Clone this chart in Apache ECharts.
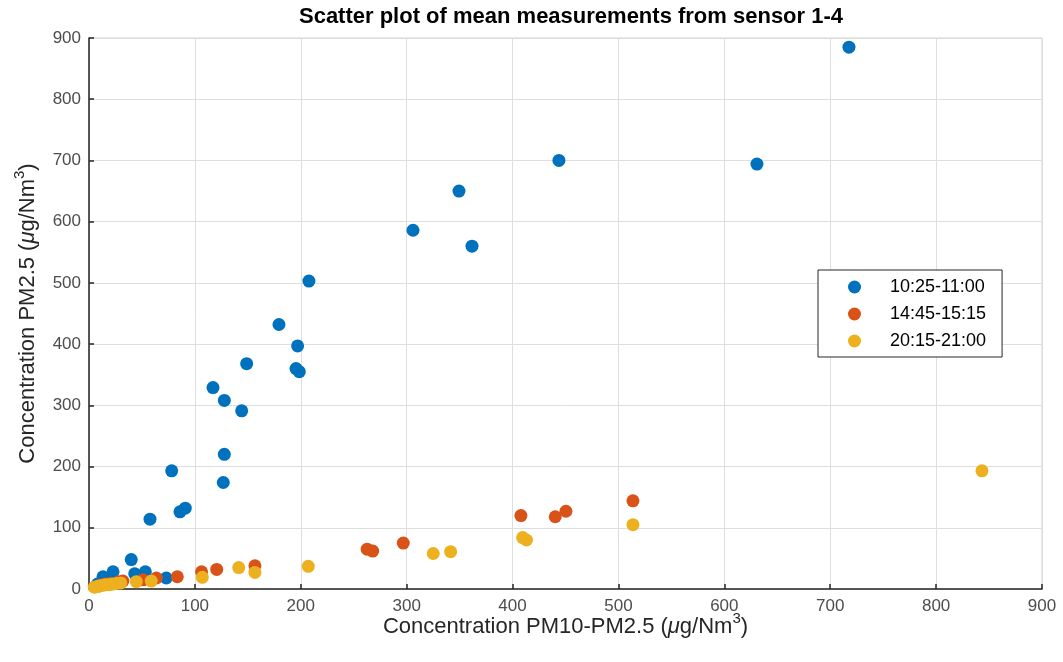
<!DOCTYPE html>
<html>
<head>
<meta charset="utf-8">
<script src="https://cdn.jsdelivr.net/npm/echarts@6/dist/echarts.min.js"></script>
<style>
  html, body { margin: 0; padding: 0; background: #fff; }
  #chart { width: 1063px; height: 662px; }
</style>
</head>
<body>
<div id="chart"></div>
<script>
// Mean PM measurements [PM10-PM2.5, PM2.5] in µg/Nm³, one list per time window
const seriesNames = ['10:25-11:00', '14:45-15:15', '20:15-21:00'];

const morning = [
  [717.7, 885], [443.8, 700], [630.8, 694], [349.4, 650], [306, 586], [361.7, 560],
  [207.7, 503], [179.4, 432], [197, 397], [148.9, 368], [195.5, 360], [198.6, 355],
  [117.1, 329], [127.8, 308], [144.2, 291], [127.8, 220], [78.1, 193], [126.8, 174],
  [90.9, 132], [85.9, 126], [57.6, 114], [39.9, 48], [22.7, 28], [13.2, 20],
  [43.2, 25], [53.2, 28], [73, 18], [8, 8], [12, 10], [18, 12]
];

const afternoon = [
  [513.7, 144], [450.4, 127], [440.3, 118], [407.9, 120], [296.8, 75], [262.7, 65],
  [267.9, 62], [156.7, 38], [120.6, 32], [106.3, 28], [83.4, 20], [63.6, 18],
  [51, 15], [32, 13], [28, 12], [20, 9], [15, 8], [10, 6]
];

const evening = [
  [843.3, 193], [513.7, 105], [409.5, 84], [413.2, 80], [341.5, 61], [325.1, 58],
  [207.1, 37], [156.7, 27], [141.4, 35], [107, 19], [58.8, 13], [44.7, 12],
  [30, 10], [26, 9], [22, 8], [19, 7], [16, 7], [13, 6], [10, 5], [8, 4], [5, 3]
];

const colors = ['#0072BD', '#D95319', '#EDB120'];
const font = '"Liberation Sans", Arial, Helvetica, sans-serif';

// Rich-text styles for axis names: italic µ and raised exponent
const nameRich = {
  n: { fontFamily: font, fontSize: 22, color: '#262626', lineHeight: 27, verticalAlign: 'bottom' },
  i: { fontFamily: font, fontSize: 22, color: '#262626', fontStyle: 'italic', lineHeight: 27, verticalAlign: 'bottom' },
  s: { fontFamily: font, fontSize: 15, color: '#262626', lineHeight: 27, verticalAlign: 'top' }
};

const chart = echarts.init(document.getElementById('chart'));

function axis(name, extra) {
  return Object.assign({
    type: 'value',
    min: 0,
    max: 900,
    interval: 100,
    name: name,
    nameLocation: 'middle',
    nameMoveOverlap: false,
    nameTextStyle: { fontFamily: font, fontSize: 22, color: '#262626', rich: nameRich },
    axisLine: { show: true, onZero: false, lineStyle: { color: '#262626', width: 1.5 } },
    axisTick: { show: true, inside: true, length: 5, lineStyle: { color: '#262626', width: 1.5 } },
    splitLine: { show: true, lineStyle: { color: '#dedede', width: 1 } }
  }, extra);
}

chart.setOption({
  animation: false,
  backgroundColor: '#ffffff',
  color: colors,
  title: {
    text: 'Scatter plot of mean measurements from sensor 1-4',
    left: 566,
    textAlign: 'center',
    top: 1,
    textStyle: { fontFamily: font, fontSize: 22, fontWeight: 'bold', color: '#000' }
  },
  grid: { left: 89, right: 21, top: 38, bottom: 73, show: true, borderColor: '#d0d0d0', borderWidth: 1 },
  xAxis: axis('{n|Concentration PM10-PM2.5 (}{i|\u03bc}{n|g/Nm}{s|3}{n|)}', {
    nameGap: 22,
    axisLabel: { fontFamily: font, fontSize: 17, color: '#4d4d4d', margin: 9 }
  }),
  yAxis: axis('{n|Concentration PM2.5 (}{i|\u03bc}{n|g/Nm}{s|3}{n|)}', {
    nameGap: 50,
    axisLabel: { fontFamily: font, fontSize: 17, color: '#4d4d4d', margin: 8 }
  }),
  legend: {
    orient: 'vertical',
    left: 818,
    top: 270,
    padding: [8, 16, 7, 30],
    itemGap: 9,
    itemWidth: 13,
    itemHeight: 13,
    backgroundColor: '#fff',
    borderColor: '#262626',
    borderWidth: 1,
    borderRadius: 0,
    icon: 'circle',
    textStyle: { fontFamily: font, fontSize: 18, color: '#000', padding: [0, 0, 0, 24] },
    data: seriesNames
  },
  series: [
    { name: seriesNames[0], type: 'scatter', data: morning, symbolSize: 13, itemStyle: { opacity: 1 } },
    { name: seriesNames[1], type: 'scatter', data: afternoon, symbolSize: 13, itemStyle: { opacity: 1 } },
    { name: seriesNames[2], type: 'scatter', data: evening, symbolSize: 13, itemStyle: { opacity: 1 } }
  ]
});
</script>
</body>
</html>
